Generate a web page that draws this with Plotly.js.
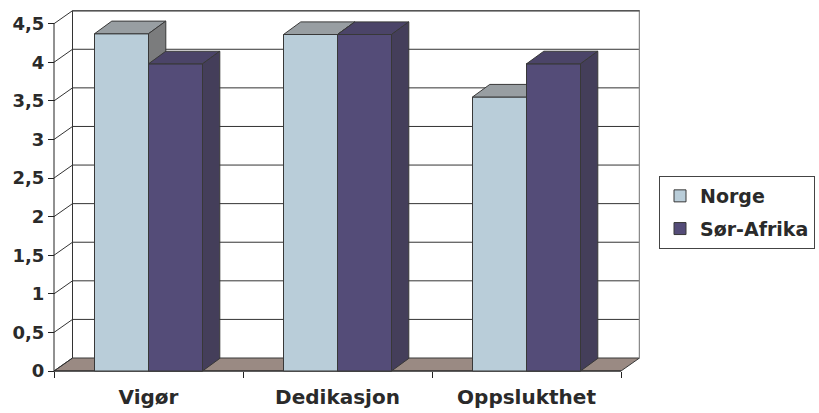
<!DOCTYPE html>
<html>
<head>
<meta charset="utf-8">
<script src="https://cdn.plot.ly/plotly-3.0.1.min.js"></script>
<style>html,body{margin:0;padding:0;background:#fff;}#chart{width:819px;height:413px;}</style>
</head>
<body>
<div id="chart"></div>
<script>
// ---- data ----
const categories = ['Vigør', 'Dedikasjon', 'Oppslukthet'];
const seriesNames = ['Norge', 'Sør-Afrika'];
const norge = [4.37, 4.36, 3.55];
const sorAfrika = [3.98, 4.36, 3.98];
const yTickVals = [0, 0.5, 1, 1.5, 2, 2.5, 3, 3.5, 4, 4.5];
const yTickText = ['0', '0,5', '1', '1,5', '2', '2,5', '3', '3,5', '4', '4,5'];

// ---- style / geometry ----
const PX_CAT = 189, PX_UNIT = 77.18;
const DX = 18.5 / PX_CAT, DY = 13 / PX_UNIT;      // wall/floor depth
const BDX = 17.3 / PX_CAT, BDY = 12.6 / PX_UNIT;  // bar depth
const BARGAP = 1 - 2 * 54 / PX_CAT;
const colors = {
  front: ['#B9CDD9', '#544C78'],
  top: ['#989EA2', '#4B4468'],
  side: ['#7B7C7D', '#443E5A']
};
const EDGE = '#383838';
const TXT = '#2a2a2a';
const FONT = 'DejaVu Sans';

const series = [norge, sorAfrika];
const nCat = categories.length, nSer = series.length;
const yMax = yTickVals[yTickVals.length - 1];
const w = (1 - BARGAP) / nSer;
const xPos = categories.map((c, i) => i + 0.5);

function barEdges(i, s) {
  const left = xPos[i] - nSer * w / 2 + s * w;
  return [left, left + w];
}
function polyTrace(polys, fill, name) {
  const xs = [], ys = [];
  polys.forEach(p => { p.forEach(pt => { xs.push(pt[0]); ys.push(pt[1]); }); xs.push(p[0][0]); ys.push(p[0][1]); xs.push(null); ys.push(null); });
  return { type: 'scatter', mode: 'lines', x: xs, y: ys, fill: 'toself', fillcolor: fill,
    line: { color: EDGE, width: 1 }, showlegend: false, hoverinfo: 'skip', name: name };
}

const traces = [];
// front faces as bars (legend entries)
series.forEach((vals, s) => {
  traces.push({ type: 'bar', x: xPos, y: vals, name: seriesNames[s], legendgroup: 'g' + s,
    marker: { color: colors.front[s], line: { color: EDGE, width: 1 } }, hoverinfo: 'y' });
});
// 3D faces in painter's order
series.forEach((vals, s) => {
  if (s > 0) {
    traces.push(polyTrace(vals.map((v, i) => { const [l, r] = barEdges(i, s); return [[l, 0], [r, 0], [r, v], [l, v]]; }), colors.front[s], 'front' + s));
  }
  traces.push(polyTrace(vals.map((v, i) => { const [l, r] = barEdges(i, s); return [[l, v], [r, v], [r + BDX, v + BDY], [l + BDX, v + BDY]]; }), colors.top[s], 'top' + s));
  traces.push(polyTrace(vals.map((v, i) => { const [l, r] = barEdges(i, s); return [[r, 0], [r, v], [r + BDX, v + BDY], [r + BDX, BDY]]; }), colors.side[s], 'side' + s));
});

// ---- walls / floor / gridlines as shapes ----
function path(pts, close) { return 'M' + pts.map(p => p[0] + ',' + p[1]).join('L') + (close ? 'Z' : ''); }
const shapes = [];
shapes.push({ type: 'path', xref: 'x', yref: 'y', layer: 'below', path: path([[DX, DY], [nCat + DX, DY], [nCat + DX, yMax + DY], [DX, yMax + DY]], true), fillcolor: '#ffffff', line: { width: 0 } });
shapes.push({ type: 'path', xref: 'x', yref: 'y', layer: 'below', path: path([[0, 0], [nCat, 0], [nCat + DX, DY], [DX, DY]], true), fillcolor: '#9A8A83', line: { color: EDGE, width: 1 } });
yTickVals.forEach(v => {
  if (v > 0) shapes.push({ type: 'line', xref: 'x', yref: 'y', layer: 'below', x0: DX, x1: nCat + DX, y0: v + DY, y1: v + DY, line: { color: '#333333', width: 1 } });
  shapes.push({ type: 'line', xref: 'x', yref: 'y', layer: 'below', x0: 0, x1: DX, y0: v, y1: v + DY, line: { color: '#333333', width: 1 } });
});
shapes.push({ type: 'line', xref: 'x', yref: 'y', layer: 'below', x0: DX, x1: DX, y0: DY, y1: yMax + DY, line: { color: '#333333', width: 1 } });
shapes.push({ type: 'line', xref: 'x', yref: 'y', layer: 'below', x0: nCat + DX, x1: nCat + DX, y0: DY, y1: yMax + DY, line: { color: '#8a8a8a', width: 1.5 } });
shapes.push({ type: 'line', xref: 'x', yref: 'y', layer: 'below', x0: DX, x1: nCat + DX, y0: yMax + DY, y1: yMax + DY, line: { color: '#555555', width: 1.5 } });
shapes.push({ type: 'line', xref: 'x', yref: 'y', layer: 'below', x0: 0, x1: 0, y0: 0, y1: yMax, line: { color: '#222222', width: 1 } });
shapes.push({ type: 'line', xref: 'x', yref: 'y', layer: 'below', x0: 0, x1: nCat, y0: 0, y1: 0, line: { color: '#222222', width: 1 } });

const ML = 52, MT = 10, MB = 40, MR = 179;
const plotW = 819 - ML - MR, plotH = 413 - MT - MB;
const layout = {
  width: 819, height: 413,
  margin: { l: ML, r: MR, t: MT, b: MB, pad: 0, autoexpand: false },
  paper_bgcolor: '#ffffff', plot_bgcolor: 'rgba(0,0,0,0)',
  barmode: 'group', bargap: BARGAP, bargroupgap: 0,
  showlegend: true,
  xaxis: {
    range: [-2 / PX_CAT, (plotW - 2) / PX_CAT], fixedrange: true, automargin: false,
    anchor: 'free', position: 2 / plotH,
    tickvals: xPos, ticktext: categories, ticks: '', showgrid: false, zeroline: false, showline: false,
    tickfont: { family: FONT, size: 20, weight: 'bold', color: TXT },
    ticklabelstandoff: 12,
    minor: { tickvals: categories.map((c, i) => i).concat([nCat]), ticks: 'outside', ticklen: 6, tickcolor: '#222222', tickwidth: 1, showgrid: false }
  },
  yaxis: {
    range: [-2 / PX_UNIT, (plotH - 2) / PX_UNIT], fixedrange: true, automargin: false,
    anchor: 'free', position: 2 / plotW,
    tickvals: yTickVals, ticktext: yTickText, ticks: 'outside', ticklen: 6, tickcolor: '#222222', tickwidth: 1,
    showgrid: false, zeroline: false, showline: false,
    tickfont: { family: FONT, size: 18, weight: 'bold', color: TXT }
  },
  legend: {
    x: (659 - ML) / plotW, xanchor: 'left', y: (373 - 212.5) / plotH, yanchor: 'middle',
    bgcolor: '#ffffff', bordercolor: '#444444', borderwidth: 1,
    font: { family: FONT, size: 19, weight: 'bold', color: TXT },
    traceorder: 'grouped', tracegroupgap: 5
  },
  shapes: shapes
};
Plotly.newPlot('chart', traces, layout, { displayModeBar: false, staticPlot: true });
</script>
</body>
</html>
